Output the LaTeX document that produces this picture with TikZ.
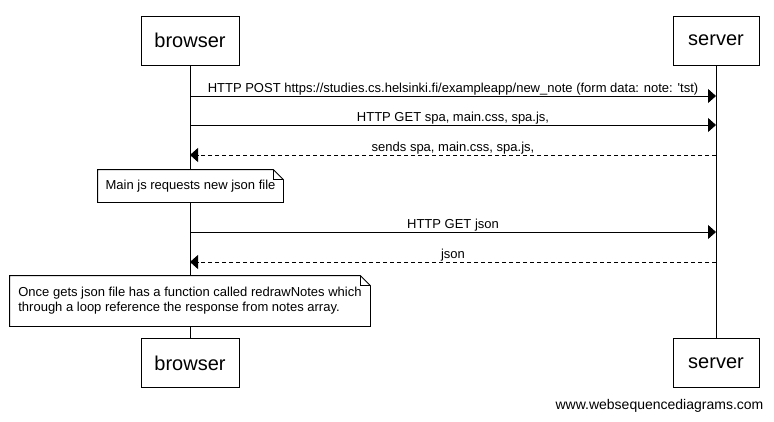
\documentclass[tikz,border=0pt]{standalone}
\usepackage{fontspec}
\setmainfont{Liberation Sans}
\usetikzlibrary{arrows.meta}

\begin{document}
\begin{tikzpicture}[x=1pt,y=-1pt,line width=0.8pt,
    actor/.style={draw,fill=white,minimum height=49pt,inner sep=0pt,font=\fontsize{20}{24}\selectfont},
    msg/.style={-{Triangle[length=8pt,width=14pt]}},
    reply/.style={msg,dash pattern=on 4pt off 3pt},
    msglabel/.style={midway,above=0pt,inner sep=0pt,text height=10pt,text depth=3pt,font=\fontsize{13}{15}\selectfont},
    note/.style={fill=white,inner sep=0pt,align=left,font=\fontsize{13}{15}\selectfont}]
    \useasboundingbox (0,0) rectangle (774,421);
    \path (190,40.5) node [actor,minimum width=98pt] (bt) {browser};
    \path (716,40.5) node [actor,minimum width=86pt] (st) {server};
    \path (190,363) node [actor,minimum width=98pt] (bb) {browser};
    \path (716,363) node [actor,minimum width=86pt] (sb) {server};
    \draw (bt.south) -- (bb.north);
    \draw (st.south) -- (sb.north);
    \path (190,96) coordinate (b1) (716,96) coordinate (s1);
    \draw [msg] (b1) -- (s1) node[msglabel] {HTTP POST https://studies.cs.helsinki.fi/exampleapp/new\_note (form data: note: \textquotesingle tst)};
    \path (190,125) coordinate (b2) (716,125) coordinate (s2);
    \draw [msg] (b2) -- (s2) node[msglabel] {HTTP GET spa, main.css, spa.js,};
    \path (190,155) coordinate (b3) (716,155) coordinate (s3);
    \draw [reply] (s3) -- (b3) node[msglabel] {sends spa, main.css, spa.js,};
    \path (190.5,186) node [note,minimum width=185pt,minimum height=32pt] (n1) {Main js requests new json file};
    \draw (n1.south west) -- (n1.north west) -- ([xshift=-10pt]n1.north east) -- ([yshift=-10pt]n1.north east) -- (n1.south east) -- cycle;
    \draw ([xshift=-10pt]n1.north east) |- ([yshift=-10pt]n1.north east);
    \path (190,232) coordinate (b4) (716,232) coordinate (s4);
    \draw [msg] (b4) -- (s4) node[msglabel] {HTTP GET json};
    \path (190,262) coordinate (b5) (716,262) coordinate (s5);
    \draw [reply] (s5) -- (b5) node[msglabel] {json};
    \path (190,301) node [note,minimum width=360pt,minimum height=50pt] (n2) {Once gets json file has a function called redrawNotes which\\through a loop reference the response from notes array.};
    \draw (n2.south west) -- (n2.north west) -- ([xshift=-10pt]n2.north east) -- ([yshift=-10pt]n2.north east) -- (n2.south east) -- cycle;
    \draw ([xshift=-10pt]n2.north east) |- ([yshift=-10pt]n2.north east);
    \path (659.5,406) node [font=\fontsize{14}{16}\selectfont] (wsd) {www.websequencediagrams.com};
\end{tikzpicture}
\end{document}
